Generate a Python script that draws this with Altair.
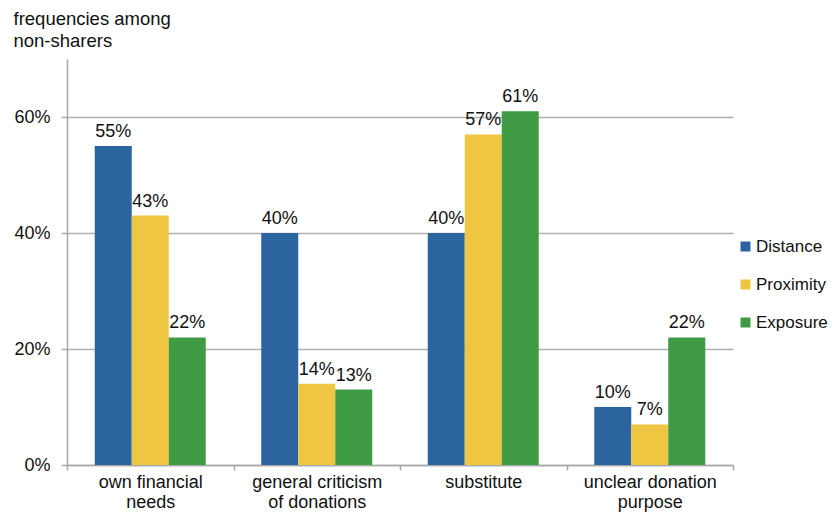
import altair as alt
import pandas as pd

categories = ["own financial|needs", "general criticism|of donations", "substitute", "unclear donation|purpose"]
series = ["Distance", "Proximity", "Exposure"]
distance = [0.55, 0.40, 0.40, 0.10]
proximity = [0.43, 0.14, 0.57, 0.07]
exposure = [0.22, 0.13, 0.61, 0.22]
colors = ["#2c64a0", "#eec642", "#3f9c45"]

rows = []
for i, c in enumerate(categories):
    for s, vals in zip(series, [distance, proximity, exposure]):
        rows.append({"category": c, "series": s, "value": vals[i]})
df = pd.DataFrame(rows)

FONT = "Liberation Sans"

base = alt.Chart(df).encode(
    x=alt.X("category:N", sort=categories,
            scale=alt.Scale(paddingInner=0, paddingOuter=0),
            axis=alt.Axis(title=None, labelAngle=0, tickBand="extent", tickSize=5,
                          labelPadding=3, labelFontSize=18, labelFont=FONT, labelColor="#111",
                          labelExpr="split(datum.label, '|')", labelLineHeight=20,
                          labelBaseline="top",
                          domainColor="#a8a8a8", tickColor="#a8a8a8", domainWidth=1.5, tickWidth=1.5)),
    xOffset=alt.XOffset("series:N", sort=series,
                        scale=alt.Scale(paddingInner=0, paddingOuter=0.75)),
)

bars = base.mark_bar().encode(
    y=alt.Y("value:Q", scale=alt.Scale(domain=[0, 0.7], nice=False),
            axis=alt.Axis(values=[0, 0.2, 0.4, 0.6], format=".0%",
                          title=["frequencies among", "non-sharers"],
                          titleAngle=0, titleAlign="left", titleBaseline="alphabetic",
                          titleX=-54, titleY=-35, titleFontSize=18.5, titleFont=FONT,
                          titleFontWeight="normal", titleColor="#111", titleLineHeight=22,
                          labelFontSize=18, labelFont=FONT, labelColor="#111",
                          tickSize=6, labelPadding=11,
                          grid=True, gridColor="#b0b0b0", gridWidth=1.5,
                          domainColor="#a8a8a8", tickColor="#a8a8a8", domainWidth=1.5, tickWidth=1.5)),
    color=alt.Color("series:N", sort=series,
                    scale=alt.Scale(domain=series, range=colors),
                    legend=alt.Legend(title=None, orient="none", legendX=670, legendY=179,
                                      symbolType="square", symbolSize=100, symbolStrokeWidth=0,
                                      labelFontSize=17, labelFont=FONT, labelColor="#111",
                                      rowPadding=20, labelOffset=2)),
)

labels = base.mark_text(baseline="alphabetic", dy=-9, fontSize=18, font=FONT, color="#111").encode(
    y=alt.Y("value:Q"),
    text=alt.Text("value:Q", format=".0%"),
)

chart = alt.layer(bars, labels).properties(
    width=666, height=406,
    background="white",
    autosize=alt.AutoSizeParams(type="none"),
    padding={"left": 59, "top": 51, "right": 95, "bottom": 48},
).configure_view(stroke=None)

chart.save("out.html", embed_options={"renderer": "svg", "actions": False})
